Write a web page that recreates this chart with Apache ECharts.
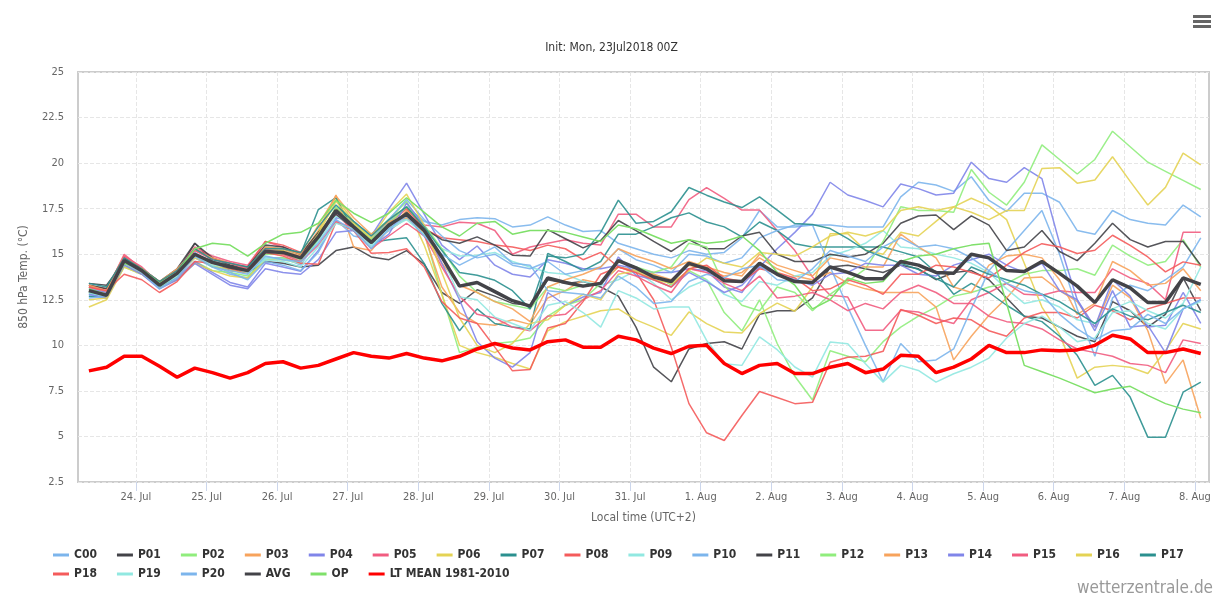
<!DOCTYPE html>
<html>
<head>
<meta charset="utf-8">
<script src="https://cdn.jsdelivr.net/npm/echarts@6/dist/echarts.min.js"></script>
<style>
html, body { margin: 0; padding: 0; background: #fff; }
#main { width: 1223px; height: 600px; }
</style>
</head>
<body>
<div id="main"></div>
<script>
// day ticks (hours after 24 Jul 00:00 local) and their labels
var dayHours = [0, 24, 48, 72, 96, 120, 144, 168, 192, 216, 240, 264, 288, 312, 336, 360];
var dayLabels = ['24. Jul', '25. Jul', '26. Jul', '27. Jul', '28. Jul', '29. Jul', '30. Jul', '31. Jul',
  '1. Aug', '2. Aug', '3. Aug', '4. Aug', '5. Aug', '6. Aug', '7. Aug', '8. Aug'];

// ensemble members, 6-hourly, first value 23 Jul 08:00 local
var c00 = [12.7,12.6,14.8,14.0,13.2,13.8,14.8,14.3,13.9,13.7,14.8,14.8,14.4,15.8,17.3,16.6,15.9,16.8,17.6,16.8,
  16.6,16.9,17.0,16.95,16.5,16.6,17.05,16.6,16.25,16.3,15.6,15.3,15.0,14.8,
  15.2,15.0,15.1,15.9,17.4,16.5,16.5,16.6,16.6,16.5,16.5,16.5,18.15,18.95,18.8,18.45,
  19.25,17.95,17.35,18.35,18.35,17.85,16.3,16.1,17.4,16.9,16.7,16.6,17.7,17.05];
var p01 = [13.4,13.3,14.6,14.0,13.3,14.0,15.6,14.6,14.1,14.0,14.6,14.5,14.3,14.4,15.2,15.4,14.85,14.7,15.2,14.45,
  12.9,12.3,13.05,12.7,12.3,12.2,13.6,13.4,13.5,13.2,12.7,11.0,8.8,8.0,
  9.8,10.1,10.2,9.8,11.7,11.9,11.9,12.6,14.3,14.4,14.2,14.0,14.4,14.2,13.6,14.0,
  14.1,13.6,12.6,11.6,11.5,11.0,10.5,10.2,12.4,11.9,11.0,11.7,13.7,11.9];
var p02 = [12.9,12.6,14.3,13.9,13.2,13.6,14.6,14.1,14.0,13.8,14.7,14.8,14.6,15.8,17.6,16.7,16.1,16.9,17.9,16.2,
  12.8,9.6,9.9,10.1,10.2,10.4,11.6,12.2,12.5,13.4,14.3,14.1,13.9,13.3,
  14.1,13.6,11.8,10.8,12.5,10.1,8.3,7.0,9.7,9.4,9.1,10.2,11.0,11.6,12.1,12.7,
  12.9,13.2,13.4,13.9,14.1,14.1,14.2,13.85,15.5,14.9,14.4,14.6,15.8,14.3];
var p03 = [13.2,12.9,14.7,14.0,13.3,14.0,15.0,14.6,14.4,14.2,15.3,15.2,14.9,16.3,18.25,15.4,15.2,16.4,17.4,16.1,
  13.2,11.8,11.2,11.1,11.4,11.15,12.6,13.0,13.6,13.4,14.3,14.1,13.9,13.6,
  14.4,14.2,13.8,14.0,14.8,14.2,13.8,13.6,14.0,13.4,13.1,12.9,12.9,12.9,12.1,9.2,
  10.5,11.65,12.6,13.7,13.75,13.0,12.4,11.0,13.3,12.6,10.8,7.9,9.2,6.0];
var p04 = [13.1,12.9,14.6,14.1,13.2,13.7,14.6,14.0,13.45,13.2,14.5,14.3,14.06,15.2,17.0,16.8,16.0,17.5,18.9,17.2,
  15.5,14.7,15.45,14.4,13.9,13.75,14.7,14.5,14.2,14.2,14.4,14.2,14.0,14.0,
  14.2,14.1,13.2,12.9,14.3,15.3,16.2,17.2,18.95,18.25,17.95,17.6,18.85,18.6,18.25,18.35,
  20.05,19.15,18.95,19.75,19.15,15.6,12.5,11.0,13.6,12.7,11.0,11.1,12.9,11.2];
var p05 = [13.2,13.0,15.0,14.2,13.5,14.1,15.4,14.9,14.6,14.4,15.7,15.4,15.0,15.9,17.2,16.3,15.6,16.3,17.0,16.6,
  16.5,16.75,16.7,16.3,15.0,15.4,15.6,15.8,15.6,15.5,17.2,17.2,16.5,16.5,
  18.0,18.66,18.06,17.42,17.42,16.3,15.2,13.75,12.75,12.65,10.83,10.83,11.92,11.83,11.46,11.2,
  12.5,12.9,13.4,12.8,12.75,13.0,12.9,12.9,14.2,13.7,13.4,12.5,16.2,16.2];
var p06 = [12.1,12.5,14.3,13.9,13.2,13.6,14.5,14.1,13.8,13.7,14.7,14.7,14.5,16.2,18.1,16.8,15.8,16.9,17.6,15.5,
  12.8,10.0,9.6,9.35,9.0,8.7,10.8,11.3,11.6,11.9,12.0,11.4,11.0,10.55,
  11.83,11.19,10.73,10.68,11.74,12.32,11.87,13.2,16.13,16.13,15.22,15.0,16.2,16.0,16.8,17.6,
  18.07,17.65,16.9,14.5,12.1,10.6,8.2,8.8,8.9,8.8,8.45,9.7,11.2,10.9];
var p07 = [12.7,12.7,14.6,14.1,13.2,13.8,15.0,14.6,14.4,14.2,15.4,15.3,15.0,17.45,18.1,16.3,15.66,15.8,15.9,14.5,
  12.3,10.8,12.0,11.2,11.0,10.9,15.05,14.6,14.1,14.6,16.1,16.1,16.5,17.0,
  17.27,16.77,16.5,15.95,16.77,16.3,15.58,15.4,15.4,15.4,15.4,15.4,15.13,14.85,14.0,12.8,
  13.4,12.9,12.2,11.6,11.3,10.5,9.45,7.8,8.35,7.16,4.96,4.96,7.43,7.98];
var p08 = [13.3,13.1,14.9,14.2,13.4,14.1,15.3,14.8,14.5,14.3,15.7,15.5,15.1,16.0,17.5,16.6,15.7,16.7,17.5,16.4,
  15.9,15.8,15.7,15.5,15.4,15.2,15.5,15.3,14.7,15.1,14.3,14.0,12.5,9.9,
  6.8,5.2,4.78,6.15,7.47,7.14,6.8,6.87,9.07,9.35,9.4,9.67,11.97,11.65,11.2,11.5,
  11.4,10.8,10.5,11.5,11.8,11.8,11.5,12.2,11.9,11.4,12.0,12.3,12.6,12.6];
var p09 = [12.8,12.7,14.6,14.1,13.3,13.9,15.0,14.5,14.2,14.0,14.8,14.7,14.5,15.7,17.1,16.5,15.5,16.3,17.0,16.0,
  15.3,14.9,14.95,15.1,14.6,14.3,14.0,13.9,13.5,13.3,13.6,14.1,13.4,12.5,
  13.2,13.6,12.8,12.4,13.5,13.3,13.8,14.0,14.9,15.2,15.6,16.3,15.4,15.3,15.0,14.8,
  14.5,14.0,13.1,12.3,12.5,12.1,11.4,11.2,12.0,12.4,11.9,11.5,12.3,14.3];
var p10 = [12.9,12.8,14.7,14.2,13.4,14.0,15.1,14.4,14.0,13.6,14.6,14.4,14.1,15.1,16.9,16.0,15.8,16.9,18.0,16.9,
  16.0,15.2,14.8,15.0,14.4,14.2,14.6,13.9,14.1,14.3,15.3,14.7,14.4,14.0,
  15.0,14.9,14.5,14.8,15.9,16.3,16.6,16.6,14.3,12.1,10.0,8.0,10.1,9.1,9.2,9.8,
  12.0,14.1,15.2,16.3,17.4,15.0,12.0,9.4,12.6,13.3,13.0,13.6,14.3,15.9];
var p11 = [13.3,13.1,14.8,14.2,13.5,14.2,15.6,14.8,14.4,14.3,15.5,15.4,15.0,16.2,17.2,16.4,15.6,16.5,17.3,16.4,
  15.8,15.6,15.95,15.5,14.95,14.9,16.35,15.85,15.35,15.75,16.85,16.3,15.7,15.15,
  15.8,15.3,15.3,16.0,16.2,15.0,14.6,14.6,15.0,14.85,15.0,15.6,16.7,17.1,17.15,16.35,
  17.1,16.6,15.2,15.4,16.3,15.15,14.65,15.6,16.7,15.8,15.4,15.7,15.7,14.4];
var p12 = [13.0,12.7,14.4,14.0,13.3,13.8,14.9,14.3,14.2,14.0,15.0,15.0,14.7,16.0,17.5,16.6,15.8,16.7,17.6,16.6,
  15.3,13.8,12.9,12.4,12.2,12.0,13.2,13.0,13.3,13.4,14.6,14.3,14.0,14.3,
  15.6,15.4,13.3,12.2,11.9,13.2,12.9,11.9,12.8,13.5,14.2,15.7,17.6,17.4,17.4,17.3,
  19.65,18.4,17.7,18.95,21.0,20.2,19.4,20.2,21.75,20.9,20.05,19.55,19.05,18.55];
var p13 = [13.3,13.0,14.9,14.2,13.5,14.2,15.2,14.8,14.5,14.2,15.4,15.3,15.0,16.6,18.2,17.0,16.1,16.8,17.0,16.2,
  14.5,13.3,12.9,12.4,12.0,11.3,13.2,13.6,13.9,14.3,15.3,14.9,14.6,14.2,
  14.6,14.3,14.0,13.8,15.0,14.4,14.1,13.8,14.8,14.6,14.3,14.3,16.1,15.4,14.8,13.2,
  12.9,14.4,14.9,15.0,14.8,13.6,11.7,12.3,14.6,14.1,13.3,13.4,14.2,13.0];
var p14 = [12.8,12.6,14.4,13.9,13.1,13.6,14.5,13.9,13.3,13.1,14.2,14.0,13.9,14.7,16.2,16.3,15.4,16.1,17.8,16.6,
  14.5,12.5,10.2,9.3,8.8,9.6,12.9,12.2,12.65,12.9,14.85,13.85,13.6,13.2,
  14.0,13.5,12.9,13.3,14.3,13.9,13.6,13.3,13.9,14.0,14.5,14.4,14.4,13.9,13.8,14.4,
  14.7,15.0,14.4,14.0,14.5,13.0,12.5,10.8,13.0,11.0,11.1,9.6,12.0,12.5];
var p15 = [13.0,12.8,14.9,14.3,13.4,14.1,15.2,14.7,14.5,14.2,15.3,15.0,14.6,15.5,16.8,16.4,15.3,16.0,16.7,16.0,
  14.3,12.7,11.7,11.5,11.0,10.8,11.6,11.7,12.5,13.0,14.1,13.8,13.3,12.9,
  14.2,14.0,13.4,13.0,13.8,12.6,12.7,12.9,12.5,11.9,12.3,12.0,12.9,13.3,12.9,12.3,
  12.3,11.6,11.3,11.2,10.9,10.3,9.8,9.6,9.4,9.0,8.9,8.5,10.3,10.1];
var p16 = [12.5,12.6,14.5,14.0,13.3,13.8,14.8,14.4,14.1,14.0,15.1,15.2,14.8,16.1,17.9,16.7,15.9,17.3,18.3,16.6,
  14.0,11.5,10.0,9.6,10.1,11.2,11.4,12.2,12.8,12.5,13.9,14.1,13.6,13.4,
  14.1,14.8,14.5,14.3,15.1,15.0,14.9,15.4,16.0,16.2,16.0,16.3,17.4,17.6,17.4,17.6,
  17.3,16.9,17.4,17.4,19.7,19.75,18.9,19.07,20.35,19.0,17.7,18.67,20.55,19.9];
var p17 = [13.4,13.2,14.8,14.2,13.5,14.1,15.3,14.7,14.5,14.3,15.3,15.3,15.1,16.5,17.7,16.8,16.0,16.9,17.6,16.5,
  15.2,14.0,13.85,13.57,13.0,12.0,14.9,14.8,15.0,16.2,17.97,16.7,16.8,17.33,
  18.66,18.24,17.87,17.56,18.15,17.42,16.68,16.63,16.41,15.86,15.22,14.85,14.5,14.16,13.66,13.2,
  14.3,13.9,13.6,13.3,12.8,12.4,11.8,11.2,12.0,11.6,11.4,11.8,12.2,11.8];
var p18 = [13.2,13.0,13.9,13.6,12.9,13.5,14.6,14.5,14.2,14.0,15.1,14.9,14.5,14.45,16.75,16.3,15.05,15.1,15.3,14.3,
  12.4,11.5,11.2,9.9,8.6,8.68,10.95,11.2,12.4,13.9,14.3,14.0,13.6,13.2,
  14.2,14.4,13.7,13.5,14.2,14.0,13.7,13.0,13.1,13.6,13.3,12.8,13.9,13.9,14.4,14.3,
  14.0,13.7,14.4,15.1,15.58,15.4,15.04,15.22,16.04,15.49,14.85,14.03,14.58,14.4];
var p19 = [12.9,12.7,14.6,14.0,13.2,13.8,14.9,14.4,14.3,14.0,14.7,14.6,14.3,15.4,16.7,16.4,15.4,16.4,16.9,16.1,
  14.9,12.65,12.5,11.55,11.2,10.83,12.2,12.4,11.8,11.0,13.0,12.6,12.0,12.1,
  12.1,10.27,8.99,8.9,10.46,9.76,8.81,8.26,10.18,10.09,8.99,7.98,8.9,8.62,7.98,8.44,
  8.8,9.3,10.4,11.2,11.6,11.0,10.2,10.4,11.8,11.9,11.2,10.9,12.0,12.4];
var p20 = [12.6,12.7,14.5,14.0,13.1,13.7,14.9,14.3,14.1,13.9,14.9,14.7,14.6,15.6,16.9,16.3,15.3,16.4,17.1,16.0,
  15.0,14.4,14.9,15.4,14.5,14.4,13.0,12.9,12.8,12.6,13.8,13.2,12.3,12.4,
  13.5,13.9,13.7,14.2,14.4,13.6,13.5,14.2,15.2,14.9,14.6,15.4,15.9,15.4,15.5,15.3,
  14.8,14.1,13.4,13.0,12.8,11.7,10.9,10.3,10.8,10.9,11.7,11.2,12.0,12.5];
var avg = [13.0,12.75,14.65,14.1,13.3,13.95,15.0,14.55,14.3,14.1,15.15,15.1,14.8,15.95,17.4,16.5,15.65,16.6,17.2,16.3,
  14.85,13.25,13.45,12.95,12.45,12.15,13.7,13.45,13.25,13.4,14.65,14.25,13.75,13.5,
  14.5,14.2,13.55,13.5,14.5,13.9,13.5,13.45,14.3,14.0,13.65,13.65,14.6,14.4,14.0,13.95,
  15.0,14.8,14.1,14.05,14.6,13.95,13.25,12.35,13.6,13.15,12.35,12.35,13.7,13.35];
var op = [13.1,12.8,14.5,14.2,13.4,14.0,15.3,15.6,15.5,14.9,15.6,16.1,16.2,16.7,17.95,17.25,16.75,17.25,18.1,17.3,
  16.5,16.0,16.7,16.8,16.1,16.3,16.3,16.2,15.95,15.7,16.6,16.4,16.0,15.6,
  15.8,15.6,15.7,16.0,15.2,14.0,13.3,12.0,12.5,13.7,13.4,13.5,14.6,14.9,15.0,15.3,
  15.5,15.6,12.3,8.9,8.55,8.2,7.8,7.4,7.6,7.75,7.25,6.8,6.5,6.3];
var ltMean = [8.6,8.8,9.4,9.4,8.85,8.25,8.75,8.5,8.2,8.5,9.0,9.1,8.75,8.9,9.25,9.6,9.4,9.3,9.55,9.3,
  9.15,9.4,9.8,10.1,9.85,9.75,10.2,10.3,9.9,9.9,10.5,10.3,9.85,9.55,
  9.95,10.0,9.0,8.45,8.9,9.0,8.45,8.45,8.8,9.0,8.5,8.7,9.45,9.4,8.5,8.8,
  9.25,10.0,9.6,9.6,9.75,9.7,9.75,10.0,10.55,10.35,9.6,9.6,9.8,9.55];

var members = [c00, p01, p02, p03, p04, p05, p06, p07, p08, p09, p10,
  p11, p12, p13, p14, p15, p16, p17, p18, p19, p20];
var memberNames = ['C00','P01','P02','P03','P04','P05','P06','P07','P08','P09','P10',
  'P11','P12','P13','P14','P15','P16','P17','P18','P19','P20'];
var palette = ['#7cb5ec','#434348','#90ed7d','#f7a35c','#8085e9','#f15c80','#e4d354','#2b908f','#f45b5b','#91e8e1'];

var font = '"DejaVu Sans Condensed", "Liberation Sans Narrow", "Liberation Sans", sans-serif';

// hours of each model step (6-hourly from 23 Jul 08:00 local)
function pairs(vals) {
  var res = [];
  for (var i = 0; i < vals.length; i++) {
    res.push([-16 + 6 * i, vals[i]]);
  }
  return res;
}

var series = [];
for (var k = 0; k < members.length; k++) {
  series.push({
    name: memberNames[k],
    type: 'line',
    data: pairs(members[k]),
    showSymbol: false,
    symbol: 'none',
    z: 2,
    lineStyle: { width: 1.5, opacity: 0.9 },
    itemStyle: { color: palette[k % 10] }
  });
}
series.push({
  name: 'AVG', type: 'line', data: pairs(avg), showSymbol: false, symbol: 'none', z: 4,
  lineStyle: { width: 3.5 }, itemStyle: { color: '#434348' }
});
series.push({
  name: 'OP', type: 'line', data: pairs(op), showSymbol: false, symbol: 'none', z: 3,
  lineStyle: { width: 1.5 }, itemStyle: { color: '#7fe06a' }
});
series.push({
  name: 'LT MEAN 1981-2010', type: 'line', data: pairs(ltMean), showSymbol: false, symbol: 'none', z: 5,
  lineStyle: { width: 3.5 }, itemStyle: { color: '#ff0000' }
});

var legendText = { fontSize: 12, fontWeight: 'bold', color: '#333', width: 30, fontFamily: font };
var allNames = memberNames.concat(['AVG', 'OP', 'LT MEAN 1981-2010']);

var myChart = echarts.init(document.getElementById('main'));
var option = {
  animation: false,
  backgroundColor: '#fff',
  textStyle: { fontFamily: font },
  title: {
    text: 'Init: Mon, 23Jul2018 00Z',
    left: 'center',
    top: 37,
    textStyle: { fontSize: 12, fontWeight: 'normal', color: '#333', fontFamily: font }
  },
  legend: [{
    data: allNames.slice(0, 18),
    left: 48, top: 544,
    icon: 'rect', itemWidth: 16, itemHeight: 3, itemGap: 20,
    textStyle: legendText
  }, {
    data: allNames.slice(18),
    left: 48, top: 563,
    icon: 'rect', itemWidth: 16, itemHeight: 3, itemGap: 20,
    textStyle: legendText
  }],
  grid: {
    left: 78, right: 14, top: 72, bottom: 118,
    show: true, borderColor: '#cccccc', borderWidth: 2
  },
  xAxis: {
    type: 'value',
    min: -19.7,
    max: 364.8,
    name: 'Local time (UTC+2)',
    nameLocation: 'middle',
    nameGap: 30,
    nameTextStyle: { color: '#666', fontSize: 12, fontFamily: font },
    axisLine: { show: false },
    axisTick: { show: true, customValues: dayHours, length: 9, lineStyle: { color: '#ccd6eb' } },
    axisLabel: {
      customValues: dayHours,
      color: '#666', fontSize: 11, margin: 10,
      formatter: function (v) { return dayLabels[Math.round(v / 24)]; }
    },
    splitLine: { show: true, lineStyle: { type: 'dashed', color: '#e6e6e6' } }
  },
  yAxis: {
    type: 'value',
    min: 2.5, max: 25, interval: 2.5,
    name: '850 hPa Temp. (°C)',
    nameLocation: 'middle',
    nameGap: 48,
    nameTextStyle: { color: '#666', fontSize: 12, fontFamily: font },
    axisLine: { show: false },
    axisTick: { show: false },
    axisLabel: { color: '#666', fontSize: 11, margin: 14 },
    splitLine: { show: true, lineStyle: { type: 'dashed', color: '#e6e6e6' } }
  },
  graphic: [
    { type: 'rect', left: 1193, top: 15, shape: { width: 18, height: 3 }, style: { fill: '#666' } },
    { type: 'rect', left: 1193, top: 20, shape: { width: 18, height: 3 }, style: { fill: '#666' } },
    { type: 'rect', left: 1193, top: 25, shape: { width: 18, height: 3 }, style: { fill: '#666' } },
    {
      type: 'text', right: 10, top: 580,
      style: { text: 'wetterzentrale.de', fill: '#999', fontSize: 17, fontFamily: font }
    }
  ],
  series: series
};
myChart.setOption(option);
</script>
</body>
</html>
